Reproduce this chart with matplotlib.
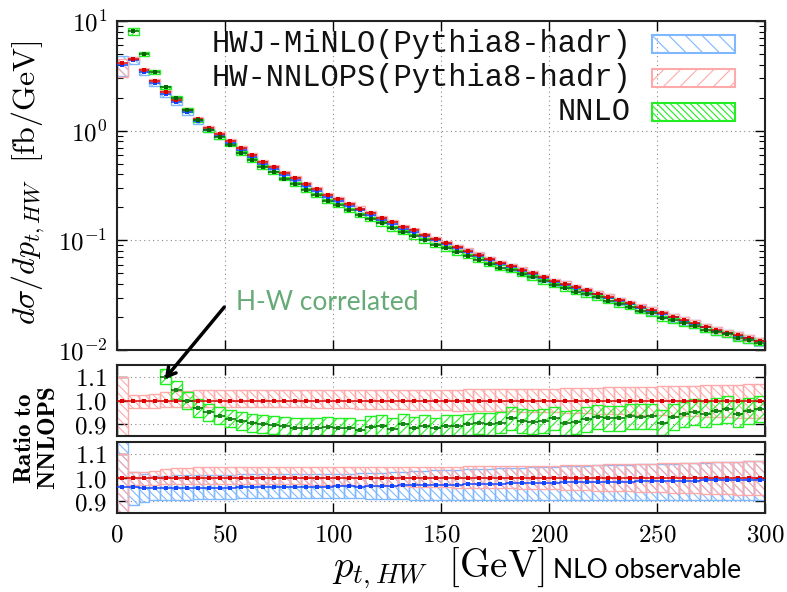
import numpy as np
import matplotlib
matplotlib.use('Agg')
import matplotlib.pyplot as plt
from matplotlib.patches import Rectangle
from matplotlib.ticker import FixedLocator, FuncFormatter, LogLocator, NullFormatter

plt.rcParams['mathtext.fontset'] = 'cm'
plt.rcParams['hatch.linewidth'] = 0.8

# 5 GeV bins from 0 to 300
edges = np.arange(0, 305, 5)

# HW-NNLOPS central value [fb/GeV]
nnlops = [4.1, 4.55, 3.61, 2.85, 2.26, 1.90, 1.54, 1.28, 1.06, 0.93,
          0.81, 0.69, 0.60, 0.52, 0.465, 0.41, 0.369, 0.327, 0.295, 0.26,
          0.238, 0.215, 0.195, 0.177, 0.160, 0.146, 0.132, 0.123, 0.112, 0.103,
          0.0946, 0.087, 0.0806, 0.074, 0.068, 0.0623, 0.058, 0.054, 0.0505, 0.0464,
          0.0424, 0.0404, 0.0374, 0.0351, 0.0327, 0.0305, 0.0283, 0.0266, 0.0246, 0.0231,
          0.0216, 0.0201, 0.0187, 0.0175, 0.0163, 0.0152, 0.0144, 0.0136, 0.0129, 0.0121]
# NNLOPS scale band, relative to central
nnlops_hi = [1.10, 1.022, 1.022, 1.028, 1.035, 1.040, 1.042, 1.044, 1.045, 1.045,
             1.045, 1.045, 1.045, 1.045, 1.045, 1.045, 1.045, 1.045, 1.045, 1.045,
             1.045, 1.045, 1.045, 1.045, 1.045, 1.045, 1.045, 1.045, 1.045, 1.046,
             1.046, 1.046, 1.047, 1.047, 1.047, 1.048, 1.048, 1.049, 1.049, 1.050,
             1.050, 1.051, 1.052, 1.053, 1.054, 1.055, 1.056, 1.057, 1.058, 1.059,
             1.060, 1.061, 1.062, 1.063, 1.064, 1.065, 1.066, 1.067, 1.068, 1.070]
nnlops_lo = [0.75, 0.967, 0.967, 0.969, 0.972, 0.973, 0.973, 0.973, 0.973, 0.973,
             0.973, 0.973, 0.973, 0.973, 0.973, 0.973, 0.972, 0.971, 0.970, 0.969,
             0.968, 0.967, 0.966, 0.965, 0.964, 0.963, 0.962, 0.961, 0.960, 0.959,
             0.958, 0.957, 0.957, 0.956, 0.955, 0.955, 0.954, 0.953, 0.953, 0.952,
             0.950, 0.949, 0.947, 0.946, 0.945, 0.944, 0.942, 0.941, 0.940, 0.939,
             0.937, 0.936, 0.935, 0.934, 0.932, 0.931, 0.930, 0.928, 0.927, 0.925]

# HWJ-MiNLO ratio to NNLOPS and its band
hwj_ratio = [0.96, 0.959, 0.956, 0.955, 0.955, 0.956, 0.956, 0.956, 0.957, 0.957,
             0.957, 0.958, 0.958, 0.958, 0.959, 0.959, 0.960, 0.960, 0.961, 0.961,
             0.962, 0.962, 0.961, 0.964, 0.965, 0.966, 0.967, 0.967, 0.968, 0.969,
             0.970, 0.970, 0.971, 0.972, 0.973, 0.974, 0.975, 0.975, 0.976, 0.977,
             0.978, 0.979, 0.980, 0.980, 0.981, 0.982, 0.983, 0.983, 0.984, 0.985,
             0.986, 0.986, 0.987, 0.987, 0.988, 0.988, 0.989, 0.989, 0.990, 0.990]
hwj_hi = [1.16, 1.025, 1.015, 1.008, 1.008, 1.009, 1.010, 1.010, 1.011, 1.012,
          1.012, 1.013, 1.013, 1.014, 1.014, 1.014, 1.015, 1.015, 1.015, 1.015,
          1.015, 1.016, 1.017, 1.018, 1.020, 1.022, 1.024, 1.026, 1.028, 1.030,
          1.031, 1.033, 1.034, 1.036, 1.037, 1.039, 1.040, 1.041, 1.043, 1.044,
          1.046, 1.047, 1.048, 1.050, 1.051, 1.052, 1.053, 1.054, 1.056, 1.057,
          1.058, 1.059, 1.060, 1.062, 1.063, 1.064, 1.065, 1.067, 1.068, 1.070]
hwj_lo = [0.77, 0.882, 0.896, 0.903, 0.905, 0.906, 0.907, 0.908, 0.909, 0.910,
          0.911, 0.912, 0.913, 0.914, 0.914, 0.915, 0.915, 0.915, 0.915, 0.915,
          0.914, 0.913, 0.912, 0.911, 0.910, 0.909, 0.908, 0.907, 0.906, 0.905,
          0.905, 0.905, 0.904, 0.904, 0.904, 0.904, 0.903, 0.903, 0.903, 0.903,
          0.903, 0.903, 0.903, 0.903, 0.903, 0.903, 0.903, 0.903, 0.903, 0.903,
          0.903, 0.903, 0.903, 0.903, 0.903, 0.903, 0.903, 0.903, 0.903, 0.903]

# NNLO ratio to NNLOPS (first bin not available) and half-width of its band
nnlo_ratio = [np.nan, 1.77, 1.39, 1.21, 1.10, 1.044, 1.00, 0.97, 0.95, 0.935,
              0.922, 0.912, 0.905, 0.900, 0.896, 0.892, 0.885, 0.884, 0.884, 0.886,
              0.882, 0.882, 0.875, 0.889, 0.892, 0.879, 0.899, 0.885, 0.893, 0.882,
              0.894, 0.892, 0.899, 0.903, 0.900, 0.907, 0.924, 0.913, 0.910, 0.913,
              0.924, 0.906, 0.910, 0.920, 0.931, 0.924, 0.924, 0.934, 0.931, 0.934,
              0.907, 0.931, 0.941, 0.952, 0.942, 0.956, 0.962, 0.945, 0.955, 0.966]
nnlo_err = [np.nan, 0.07, 0.045, 0.04, 0.032, 0.039, 0.038, 0.038, 0.037, 0.036,
            0.036, 0.038, 0.038, 0.038, 0.038, 0.038, 0.042, 0.042, 0.043, 0.043,
            0.044, 0.044, 0.044, 0.045, 0.045, 0.045, 0.046, 0.046, 0.046, 0.046,
            0.046, 0.046, 0.046, 0.046, 0.046, 0.046, 0.050, 0.050, 0.050, 0.050,
            0.050, 0.051, 0.051, 0.051, 0.052, 0.052, 0.052, 0.053, 0.053, 0.053,
            0.053, 0.054, 0.054, 0.054, 0.055, 0.055, 0.055, 0.055, 0.055, 0.055]

nnlops = np.array(nnlops)
nnlops_hi = np.array(nnlops_hi)
nnlops_lo = np.array(nnlops_lo)
hwj_ratio = np.array(hwj_ratio)
hwj_hi = np.array(hwj_hi)
hwj_lo = np.array(hwj_lo)
nnlo_ratio = np.array(nnlo_ratio)
nnlo_err = np.array(nnlo_err)

left = edges[:-1]
right = edges[1:]
centers = 0.5 * (left + right)

c_blue_band = '#7fb8ff'
c_red_band = '#ffaaaa'
c_green_band = '#22ee22'
c_blue = '#1144ff'
c_red = '#dd0000'
c_green = '#006600'

W, H = 787, 592
fig = plt.figure(figsize=(W / 100, H / 100), dpi=100)


def ax_px(x0, y0, x1, y1):
    return fig.add_axes([x0 / W, 1 - y1 / H, (x1 - x0) / W, (y1 - y0) / H])


ax = ax_px(117, 21, 765, 350)
ar1 = ax_px(117, 365, 765, 436)
ar2 = ax_px(117, 442, 765, 513)


def band(a, lo, hi, color, hatch, lw=1.0):
    ok = ~np.isnan(lo)
    a.bar(left[ok], (hi - lo)[ok], bottom=lo[ok], width=5, align='edge',
          fill=False, edgecolor=color, hatch=hatch, lw=lw, zorder=2)


def central(a, y, color, joined=False, ms=2.5, lcolor=None):
    ok = ~np.isnan(y)
    lc = lcolor or color
    if joined:
        a.step(edges, np.append(y, y[-1]), where='post', color=lc, lw=1.1, zorder=3)
    else:
        a.hlines(y[ok], left[ok], right[ok], colors=lc, lw=1.1, zorder=3)
    a.plot(centers[ok], y[ok], 's', ms=ms, color=color, mew=0, zorder=4)


# main panel: absolute distributions
hwj = nnlops * hwj_ratio
nnlo = nnlops * nnlo_ratio
band(ax, nnlops * hwj_lo, nnlops * hwj_hi, c_blue_band, '\\\\\\\\')
band(ax, nnlops * nnlops_lo, nnlops * nnlops_hi, c_red_band, '\\\\\\\\')
band(ax, nnlo * (1 - nnlo_err), nnlo * (1 + nnlo_err), c_green_band, '////')
central(ax, hwj, c_blue)
central(ax, nnlops, c_red)
central(ax, nnlo, c_green)

ax.set_yscale('log')
ax.set_ylim(1e-2, 1e1)
ax.yaxis.set_major_locator(LogLocator(base=10, numticks=10))
ax.yaxis.set_minor_locator(LogLocator(base=10, subs=np.arange(2, 10), numticks=20))
ax.yaxis.set_minor_formatter(NullFormatter())
ax.yaxis.set_major_formatter(FuncFormatter(lambda v, p: r'$10^{%d}$' % round(np.log10(v))))

# ratio panels
one = np.ones(len(nnlops))
band(ar1, nnlops_lo, nnlops_hi, c_red_band, '\\\\\\\\')
band(ar1, nnlo_ratio - nnlo_err, nnlo_ratio + nnlo_err, c_green_band, '///')
central(ar1, one, c_red, joined=True, ms=2.5)
central(ar1, nnlo_ratio, '#118811', lcolor=c_green)

band(ar2, hwj_lo, hwj_hi, c_blue_band, '\\\\\\\\')
band(ar2, nnlops_lo, nnlops_hi, c_red_band, '\\\\\\\\')
central(ar2, one, c_red, joined=True)
central(ar2, hwj_ratio, c_blue, joined=True)

for a in (ar1, ar2):
    a.set_ylim(0.85, 1.15)
    a.yaxis.set_major_locator(FixedLocator([0.9, 1.0, 1.1]))
    a.yaxis.set_major_formatter(FuncFormatter(lambda v, p: r'$%.1f$' % v))

for a in (ax, ar1, ar2):
    a.set_xlim(0, 300)
    a.xaxis.set_major_locator(FixedLocator(np.arange(0, 301, 50)))
    a.grid(True, which='major', ls=(0, (1, 3)), color='#888888', lw=0.8)
    a.set_axisbelow(True)
    a.tick_params(which='major', direction='in', top=True, right=True,
                  length=7, width=1, labelsize=18, pad=7)
    a.tick_params(which='minor', direction='in', top=True, right=True,
                  length=4, width=0.8)
    for s in a.spines.values():
        s.set_linewidth(1.5)
        s.set_color('#222222')

ax.tick_params(labelbottom=False)
ar1.tick_params(labelbottom=False)
ar2.xaxis.set_major_formatter(FuncFormatter(lambda v, p: r'$%d$' % v))

# legend drawn by hand: right-aligned labels, hatched boxes on the right
leg = [('HWJ-MiNLO(Pythia8-hadr)', c_blue_band, '\\\\', 44),
       ('HW-NNLOPS(Pythia8-hadr)', c_red_band, '//', 78),
       ('NNLO', c_green_band, '\\\\\\\\\\', 112)]
for label, col, hat, yc in leg:
    fig.text(631 / W, 1 - yc / H, label, ha='right', va='center',
             family='Liberation Mono', fontsize=22, color='#111111')
    fig.add_artist(Rectangle((652 / W, 1 - (yc + 9) / H), 83 / W, 18 / H,
                             transform=fig.transFigure, fill=False,
                             edgecolor=col, hatch=hat, lw=1.5))

# axis titles
fig.text(28 / W, 1 - 183 / H, r'$d\sigma/dp_{t,HW}\ \ [\mathrm{fb/GeV}]$',
         rotation=90, ha='center', va='center', fontsize=23)
fig.text(36 / W, 1 - 438 / H, '$\\mathbf{Ratio\\ to}$\n$\\mathbf{NNLOPS}$',
         rotation=90, ha='center', va='center', fontsize=18, linespacing=1.0)
fig.text(438 / W, 1 - 568 / H, r'$p_{t,HW}\ \ [\mathrm{GeV}]$',
         ha='center', va='center', fontsize=28)
fig.text(553 / W, 1 - 570 / H, 'NLO observable', ha='left', va='center',
         family='Lato', fontsize=19, color='black')

# annotation for the H-W correlated NNLO bin
fig.text(236 / W, 1 - 303 / H, 'H-W correlated', ha='left', va='center',
         family='Lato', fontsize=19, color='#66aa77')
fig.add_artist(matplotlib.patches.FancyArrowPatch(
    (226 / W, 1 - 305 / H), (163 / W, 1 - 381 / H), transform=fig.transFigure,
    arrowstyle='->,head_length=6,head_width=3.5', lw=2.5, color='black'))

plt.savefig('out.png', dpi=100)
